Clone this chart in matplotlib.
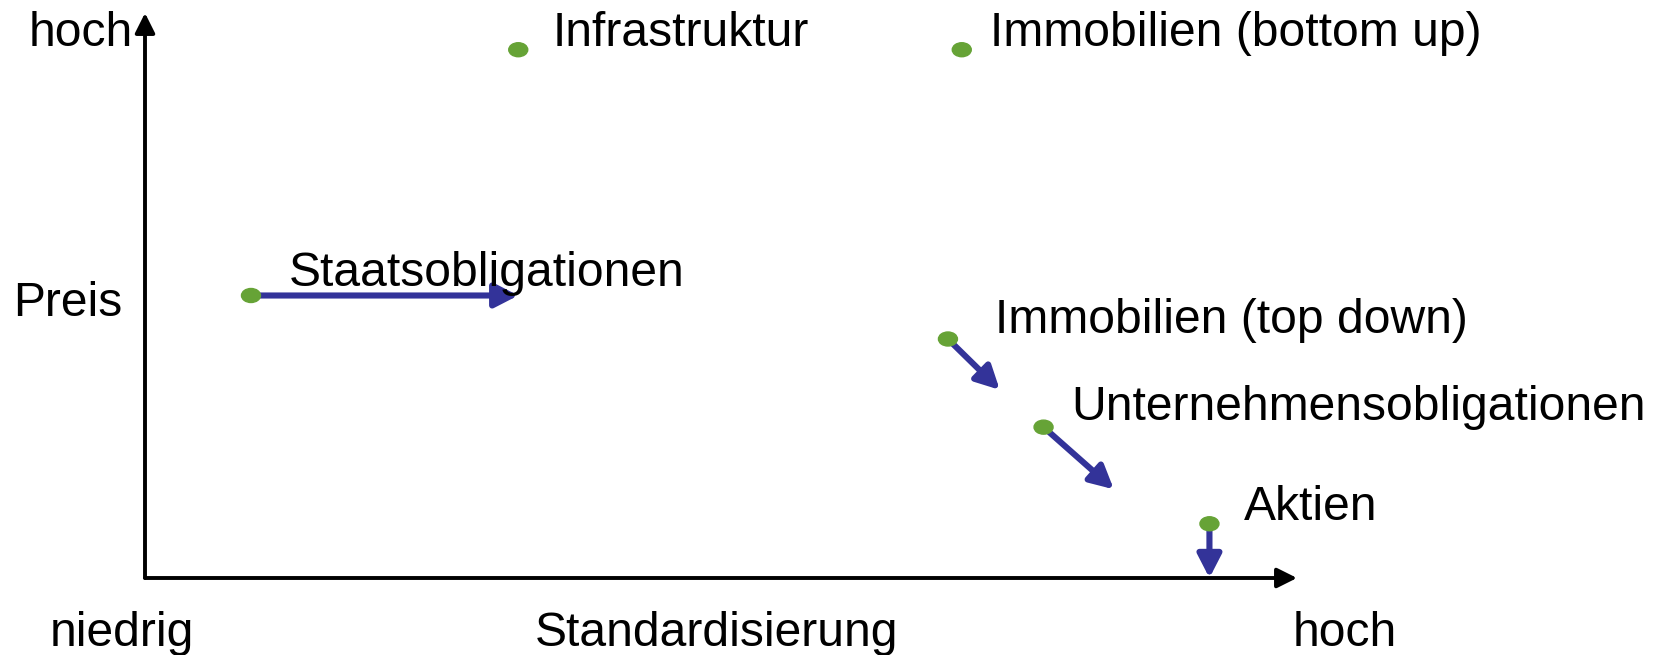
#!/usr/bin/env python3
"""Positioning chart: price vs. standardisation of asset classes."""

import matplotlib

matplotlib.use("Agg")
import matplotlib.pyplot as plt
from matplotlib.patches import Ellipse

# data (axis scale 0..10 on both axes)
assets = [
    "Infrastruktur",
    "Immobilien (bottom up)",
    "Staatsobligationen",
    "Immobilien (top down)",
    "Unternehmensobligationen",
    "Aktien",
]
standardisierung = [3.24, 7.09, 0.92, 6.97, 7.80, 9.24]
preis = [9.35, 9.35, 5.0, 4.23, 2.67, 0.96]
# trend arrows: index into assets, target position
trend_from = [2, 3, 4, 5]
trend_to_x = [3.24, 7.42, 8.41, 9.24]
trend_to_y = [5.0, 3.33, 1.57, 0.0]

# layout / style
W, H = 1660, 655
label_offsets = [(34, 4), (28, 4), (38, 9), (47, 6), (28, 7), (34, 4)]  # pixels
GREEN = "#66a336"
BLUE = "#333399"
FS = 34.6

plt.rcParams["font.family"] = ["Liberation Sans", "DejaVu Sans"]

fig = plt.figure(figsize=(W / 100, H / 100), dpi=100)
ax = fig.add_axes([0, 0, 1, 1])
ax.axis("off")
# origin at pixel (145, 578), x tip at 1297, y tip at 13
ux, uy = 115.2, 56.5
ax.set_xlim(-145 / ux, (W - 145) / ux)
ax.set_ylim(-(H - 578) / uy, 578 / uy)

# axes with arrow heads
axis_style = dict(arrowstyle="-|>,head_length=0.6,head_width=0.3", lw=2.8,
                  color="black", shrinkA=0, shrinkB=0, mutation_scale=20)
ax.annotate("", xy=(10, 0), xytext=(0, 0), arrowprops=axis_style)
ax.annotate("", xy=(0, 10), xytext=(0, 0), arrowprops=axis_style)

# trend arrows
for i, tx, ty in zip(trend_from, trend_to_x, trend_to_y):
    ax.annotate("", xy=(tx, ty), xytext=(standardisierung[i], preis[i]),
                arrowprops=dict(arrowstyle="-|>,head_length=0.7,head_width=0.36",
                                lw=4.4, color=BLUE, shrinkA=0, shrinkB=0,
                                mutation_scale=20), zorder=2)

# dots and labels
for name, x, y, off in zip(assets, standardisierung, preis, label_offsets):
    ax.add_patch(Ellipse((x, y), 19 / ux, 14 / uy, color=GREEN, zorder=3))
    ax.annotate(name, (x, y), xytext=off, textcoords="offset pixels",
                ha="left", va="baseline", fontsize=FS, zorder=4)

# axis captions
def ftext(px, py, s, ha="left"):
    fig.text(px / W, 1 - py / H, s, ha=ha, va="baseline", fontsize=FS)

ftext(133, 46, "hoch", ha="right")
ftext(13, 316, "Preis")
ftext(50, 646, "niedrig")
ftext(535, 646, "Standardisierung")
ftext(1293, 646, "hoch")

fig.savefig("out.png", dpi=100)
